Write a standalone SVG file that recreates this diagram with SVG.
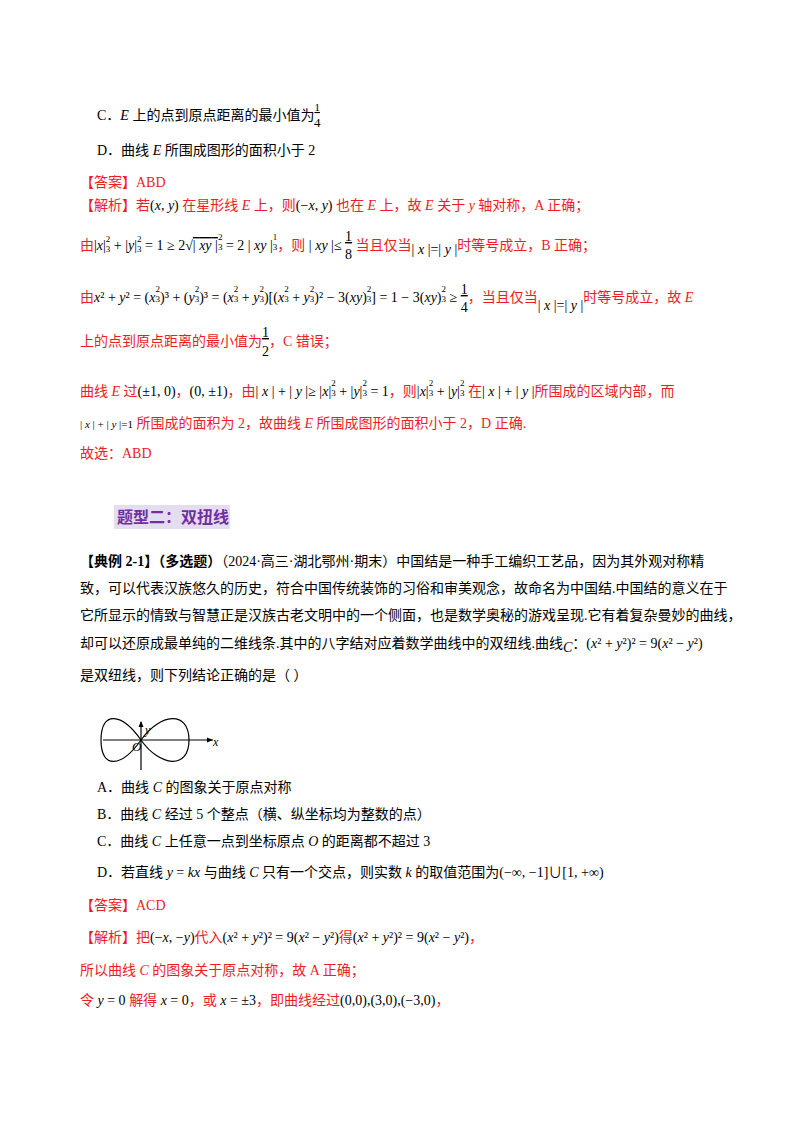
<svg xmlns="http://www.w3.org/2000/svg" width="800" height="1132" viewBox="0 0 800 1132">
<style>
text{font-family:"Liberation Serif","Noto Sans CJK SC",serif;font-size:14px;fill:#000}
.r{fill:#ee1c25}
.m{font-style:italic}
.s{font-size:9px}
.b{font-weight:bold}
.k{fill:#000}
</style>
<rect width="800" height="1132" fill="#fff"/>
<text x="97" y="120">C．<tspan class="m">E</tspan> 上的点到原点距离的最小值为<tspan dy="-9" style="font-size:11px" text-decoration="underline">1</tspan><tspan dx="-6" dy="16" style="font-size:13px">4</tspan></text>
<text x="97" y="155">D．曲线 <tspan class="m">E</tspan> 所围成图形的面积小于 2</text>
<text x="80" y="187" class="r">【答案】ABD</text>
<text x="80" y="210" class="r">【解析】若<tspan class="k">(<tspan class="m">x</tspan>, <tspan class="m">y</tspan>)</tspan> 在星形线 <tspan class="m">E</tspan> 上，则<tspan class="k">(−<tspan class="m">x</tspan>, <tspan class="m">y</tspan>)</tspan> 也在 <tspan class="m">E</tspan> 上，故 <tspan class="m">E</tspan> 关于 <tspan class="m">y</tspan> 轴对称，A 正确；</text>
<text x="80" y="250" class="r">由<tspan class="k">|<tspan class="m">x</tspan>|<tspan class="s" dy="-8">2</tspan><tspan class="s" dx="-4.5" dy="10">3</tspan><tspan dy="-2"> + |<tspan class="m">y</tspan>|</tspan><tspan class="s" dy="-8">2</tspan><tspan class="s" dx="-4.5" dy="10">3</tspan><tspan dy="-2"> = 1 ≥ 2√<tspan text-decoration="overline">| <tspan class="m">xy</tspan> |</tspan></tspan><tspan class="s" dy="-10">2</tspan><tspan class="s" dx="-4.5" dy="10">3</tspan><tspan> = 2 | <tspan class="m">xy</tspan> |</tspan><tspan class="s" dy="-10">1</tspan><tspan class="s" dx="-4.5" dy="10">3</tspan></tspan>，则 <tspan class="k">| <tspan class="m">xy</tspan> |≤ <tspan dy="-9" text-decoration="underline">1</tspan><tspan dx="-7" dy="18">8</tspan></tspan><tspan dy="-9"> 当且仅当</tspan><tspan class="k" dy="4">| <tspan class="m">x</tspan> |=| <tspan class="m">y</tspan> |</tspan><tspan dy="-4">时等号成立，B 正确；</tspan></text>
<text x="80" y="302" class="r">由<tspan class="k"><tspan class="m">x</tspan>² + <tspan class="m">y</tspan>² = (<tspan class="m">x</tspan><tspan class="s" dy="-10">2</tspan><tspan class="s" dx="-4.5" dy="10">3</tspan>)³ + (<tspan class="m">y</tspan><tspan class="s" dy="-10">2</tspan><tspan class="s" dx="-4.5" dy="10">3</tspan>)³ = (<tspan class="m">x</tspan><tspan class="s" dy="-10">2</tspan><tspan class="s" dx="-4.5" dy="10">3</tspan> + <tspan class="m">y</tspan><tspan class="s" dy="-10">2</tspan><tspan class="s" dx="-4.5" dy="10">3</tspan>)[(<tspan class="m">x</tspan><tspan class="s" dy="-10">2</tspan><tspan class="s" dx="-4.5" dy="10">3</tspan> + <tspan class="m">y</tspan><tspan class="s" dy="-10">2</tspan><tspan class="s" dx="-4.5" dy="10">3</tspan>)² − 3(<tspan class="m">xy</tspan>)<tspan class="s" dy="-10">2</tspan><tspan class="s" dx="-4.5" dy="10">3</tspan>] = 1 − 3(<tspan class="m">xy</tspan>)<tspan class="s" dy="-10">2</tspan><tspan class="s" dx="-4.5" dy="10">3</tspan> ≥ <tspan dy="-8" text-decoration="underline">1</tspan><tspan dx="-7" dy="18">4</tspan></tspan><tspan dy="-10">，当且仅当</tspan><tspan class="k" dy="8">| <tspan class="m">x</tspan> |=| <tspan class="m">y</tspan> |</tspan><tspan dy="-8">时等号成立，故 <tspan class="m">E</tspan></tspan></text>
<text x="80" y="346" class="r">上的点到原点距离的最小值为<tspan class="k" dy="-9" text-decoration="underline">1</tspan><tspan class="k" dx="-7" dy="19">2</tspan><tspan dy="-10">，C 错误；</tspan></text>
<text x="80" y="396" class="r">曲线 <tspan class="m">E</tspan> 过<tspan class="k">(±1, 0)</tspan>，<tspan class="k">(0, ±1)</tspan>，由<tspan class="k">| <tspan class="m">x</tspan> | + | <tspan class="m">y</tspan> |≥ |<tspan class="m">x</tspan>|<tspan class="s" dy="-10">2</tspan><tspan class="s" dx="-4.5" dy="10">3</tspan> + |<tspan class="m">y</tspan>|<tspan class="s" dy="-10">2</tspan><tspan class="s" dx="-4.5" dy="10">3</tspan> = 1</tspan>，则<tspan class="k">|<tspan class="m">x</tspan>|<tspan class="s" dy="-10">2</tspan><tspan class="s" dx="-4.5" dy="10">3</tspan> + |<tspan class="m">y</tspan>|<tspan class="s" dy="-10">2</tspan><tspan class="s" dx="-4.5" dy="10">3</tspan></tspan> 在<tspan class="k">| <tspan class="m">x</tspan> | + | <tspan class="m">y</tspan> |</tspan>所围成的区域内部，而</text>
<text x="80" y="428" class="r"><tspan class="k" style="font-size:11px">| <tspan class="m">x</tspan> | + | <tspan class="m">y</tspan> |=1</tspan> 所围成的面积为 2，故曲线 <tspan class="m">E</tspan> 所围成图形的面积小于 2，D 正确.</text>
<text x="80" y="458" class="r">故选：ABD</text>
<rect x="114" y="505" width="116" height="24" fill="#e4dcef"/>
<text x="117" y="523" class="b" style="font-size:16px;fill:#7030a0">题型二：双扭线</text>
<text x="80" y="566"><tspan class="b">【典例 2-1】（多选题）</tspan>（2024·高三·湖北鄂州·期末）中国结是一种手工编织工艺品，因为其外观对称精</text>
<text x="80" y="593">致，可以代表汉族悠久的历史，符合中国传统装饰的习俗和审美观念，故命名为中国结.中国结的意义在于</text>
<text x="80" y="620">它所显示的情致与智慧正是汉族古老文明中的一个侧面，也是数学奥秘的游戏呈现.它有着复杂曼妙的曲线，</text>
<text x="80" y="648">却可以还原成最单纯的二维线条.其中的八字结对应着数学曲线中的双纽线.曲线<tspan class="m" dy="4">C</tspan><tspan dy="-4">：(<tspan class="m">x</tspan>² + <tspan class="m">y</tspan>²)² = 9(<tspan class="m">x</tspan>² − <tspan class="m">y</tspan>²)</tspan></text>
<text x="80" y="680">是双纽线，则下列结论正确的是（    ）</text>
<g id="figure" fill="none" stroke="#000" stroke-width="1.2">
<line x1="103" y1="740" x2="213" y2="740"/>
<line x1="141" y1="770" x2="141" y2="722"/>
<path d="M213,740 l-6,-2.5 v5 z M141,721 l-2.5,6 h5 z" fill="#000" stroke="none"/>
<path d="M141,740 C160,713 189,710 189,740 C189,770 160,767 141,740 C122,713 101,710 101,740 C101,770 122,767 141,740"/>
</g>
<text x="145" y="734" class="m" style="font-size:12px">y</text>
<text x="213" y="746" class="m" style="font-size:12px">x</text>
<text x="132" y="751" class="m" style="font-size:13px">O</text>
<text x="97" y="792">A．曲线 <tspan class="m">C</tspan> 的图象关于原点对称</text>
<text x="97" y="819">B．曲线 <tspan class="m">C</tspan> 经过 5 个整点（横、纵坐标均为整数的点）</text>
<text x="97" y="846">C．曲线 <tspan class="m">C</tspan> 上任意一点到坐标原点 <tspan class="m">O</tspan> 的距离都不超过 3</text>
<text x="97" y="877">D．若直线 <tspan class="m">y</tspan> = <tspan class="m">kx</tspan> 与曲线 <tspan class="m">C</tspan> 只有一个交点，则实数 <tspan class="m">k</tspan> 的取值范围为(−∞, −1]∪[1, +∞)</text>
<text x="80" y="910" class="r">【答案】ACD</text>
<text x="80" y="942" class="r">【解析】把<tspan class="k">(−<tspan class="m">x</tspan>, −<tspan class="m">y</tspan>)</tspan>代入<tspan class="k">(<tspan class="m">x</tspan>² + <tspan class="m">y</tspan>²)² = 9(<tspan class="m">x</tspan>² − <tspan class="m">y</tspan>²)</tspan>得<tspan class="k">(<tspan class="m">x</tspan>² + <tspan class="m">y</tspan>²)² = 9(<tspan class="m">x</tspan>² − <tspan class="m">y</tspan>²)</tspan>，</text>
<text x="80" y="975" class="r">所以曲线 <tspan class="m">C</tspan> 的图象关于原点对称，故 A 正确；</text>
<text x="80" y="1005" class="r">令 <tspan class="k"><tspan class="m">y</tspan> = 0</tspan> 解得 <tspan class="k"><tspan class="m">x</tspan> = 0</tspan>，或 <tspan class="k"><tspan class="m">x</tspan> = ±3</tspan>，即曲线经过<tspan class="k">(0,0),(3,0),(−3,0)</tspan>，</text>
</svg>
